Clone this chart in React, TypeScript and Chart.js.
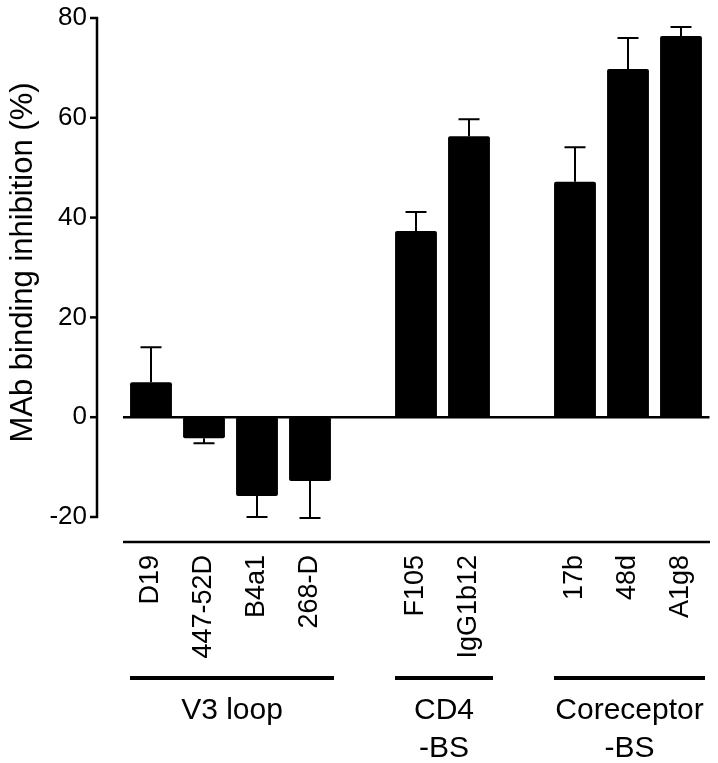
import React, { useEffect, useRef } from "react";
import { Chart, registerables } from "chart.js";

Chart.register(...registerables);

const categories = ["D19", "447-52D", "B4a1", "268-D", "", "F105", "IgG1b12", "", "17b", "48d", "A1g8"];
const values = [7.0, -4.2, -15.8, -12.8, null, 37.3, 56.3, null, 47.2, 69.8, 76.4];
const errors = [7.0, 1.0, 4.2, 7.4, null, 3.8, 3.4, null, 6.9, 6.2, 1.8];
const yTicks = [-20, 0, 20, 40, 60, 80];
const groupNames = [["V3 loop"], ["CD4", "-BS"], ["Coreceptor", "-BS"]];
const groupStart = [0, 5, 8];
const groupEnd = [3, 6, 10];
const yTitle = "MAb binding inhibition (%)";

const FONT = "'Liberation Sans', Arial, Helvetica, sans-serif";

const zeroPad = (s: any) => {
  s.paddingTop = 0;
  s.paddingBottom = 0;
  s.paddingLeft = 0;
  s.paddingRight = 0;
};

const decorPlugin = {
  id: "decor",
  afterDatasetsDraw(chart: any) {
    const ctx = chart.ctx;
    const x = chart.scales.x;
    const y = chart.scales.y;
    const ca = chart.chartArea;
    ctx.save();
    ctx.strokeStyle = "#000";
    ctx.fillStyle = "#000";
    ctx.lineCap = "butt";

    const axisX = ca.left - 27.5;
    // y axis line
    ctx.lineWidth = 2.5;
    ctx.beginPath();
    ctx.moveTo(axisX, y.getPixelForValue(80) - 1);
    ctx.lineTo(axisX, y.getPixelForValue(-20) + 1);
    ctx.stroke();
    // tick marks
    yTicks.forEach((t) => {
      const py = y.getPixelForValue(t);
      ctx.beginPath();
      ctx.moveTo(axisX - 7, py);
      ctx.lineTo(axisX + 1, py);
      ctx.stroke();
    });
    // zero line
    const y0 = y.getPixelForValue(0);
    ctx.beginPath();
    ctx.moveTo(ca.left - 1.5, y0);
    ctx.lineTo(ca.right + 2, y0);
    ctx.stroke();

    // error bars
    ctx.lineWidth = 2;
    values.forEach((v, i) => {
      const e = errors[i];
      if (v === null || e === null) return;
      const px = x.getPixelForValue(i);
      const end = v >= 0 ? v + e : v - e;
      const pv = y.getPixelForValue(v);
      const pe = y.getPixelForValue(end);
      ctx.beginPath();
      ctx.moveTo(px, pv);
      ctx.lineTo(px, pe);
      ctx.moveTo(px - 10.5, pe);
      ctx.lineTo(px + 10.5, pe);
      ctx.stroke();
    });

    // x axis line
    const xAxisY = ca.bottom + 25;
    ctx.lineWidth = 2.5;
    ctx.beginPath();
    ctx.moveTo(ca.left - 1.5, xAxisY);
    ctx.lineTo(ca.right + 2.5, xAxisY);
    ctx.stroke();

    // group lines and labels
    const lineY = ca.bottom + 161;
    ctx.font = `30px ${FONT}`;
    ctx.textAlign = "center";
    ctx.textBaseline = "middle";
    groupNames.forEach((names, g) => {
      const x1 = x.getPixelForValue(groupStart[g]) - 21;
      const x2 = x.getPixelForValue(groupEnd[g]) + 24;
      ctx.lineWidth = 4;
      ctx.beginPath();
      ctx.moveTo(x1, lineY);
      ctx.lineTo(x2, lineY);
      ctx.stroke();
      const cx = (x1 + x2) / 2;
      names.forEach((n, k) => {
        ctx.fillText(n, cx, ca.bottom + 194 + k * 38);
      });
    });

    // y title
    ctx.save();
    ctx.translate(32, (y.getPixelForValue(80) + y.getPixelForValue(-20)) / 2 - 5);
    ctx.rotate(-Math.PI / 2);
    ctx.font = `31px ${FONT}`;
    ctx.textAlign = "center";
    ctx.textBaseline = "alphabetic";
    ctx.fillText(yTitle, 0, 0);
    ctx.restore();

    ctx.restore();
  },
};

export default function App() {
  const ref = useRef<HTMLCanvasElement>(null);
  useEffect(() => {
    if (!ref.current) return;
    const chart = new Chart(ref.current, {
      type: "bar",
      data: {
        labels: categories,
        datasets: [
          {
            data: values as any,
            backgroundColor: "#000",
            borderWidth: 0,
            borderRadius: 2,
            borderSkipped: false,
            barPercentage: 0.79,
            categoryPercentage: 1,
          },
        ],
      },
      options: {
        animation: false,
        responsive: false,
        layout: { padding: { left: 0, top: 18, right: 10.5, bottom: 0 } },
        plugins: { legend: { display: false }, tooltip: { enabled: false } },
        scales: {
          x: {
            type: "category",
            offset: true,
            grid: { display: false, drawTicks: false },
            border: { display: false },
            ticks: {
              autoSkip: false,
              maxRotation: 90,
              minRotation: 90,
              padding: 38,
              color: "#000",
              font: { family: FONT, size: 27 },
            },
            afterFit: (s: any) => {
              s.height = 246;
              zeroPad(s);
            },
          },
          y: {
            min: -20,
            max: 80,
            grid: { display: false, drawTicks: false },
            border: { display: false },
            afterBuildTicks: (s: any) => {
              s.ticks = yTicks.map((v) => ({ value: v }));
            },
            ticks: {
              padding: 37.5,
              color: "#000",
              font: { family: FONT, size: 26 },
            },
            afterFit: (s: any) => {
              s.width = 124.5;
              zeroPad(s);
            },
          },
        },
      },
      plugins: [decorPlugin],
    });
    return () => chart.destroy();
  }, []);
  return (
    <div style={{ position: "fixed", left: 0, top: 0, width: 718, height: 763, background: "#fff" }}>
      <canvas ref={ref} width={718} height={763} style={{ display: "block" }} />
    </div>
  );
}
